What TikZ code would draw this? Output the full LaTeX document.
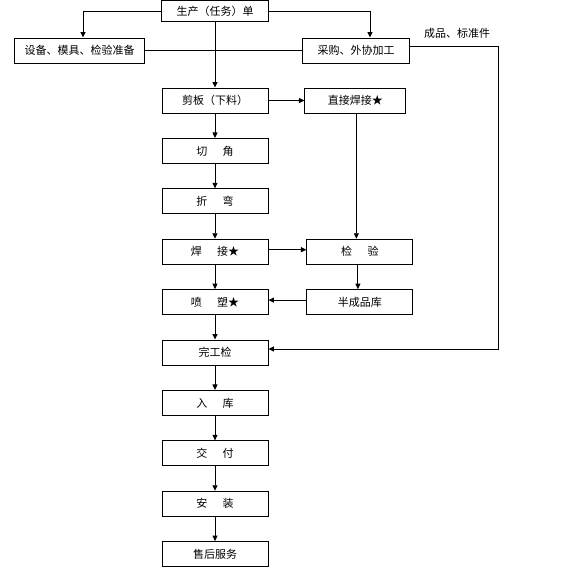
\documentclass[tikz,border=0pt]{standalone}
\usepackage{fontspec}
\newfontfamily\cjk{Noto Sans CJK SC}
\usetikzlibrary{positioning,arrows.meta}

\begin{document}
\begin{tikzpicture}
  [x=1pt,y=1pt,
   stepbox/.style={draw,line width=0.9pt,minimum width=106pt,minimum height=25pt,inner sep=0pt,
     font=\cjk\fontsize{11}{13}\selectfont},
   arr/.style={line width=0.9pt,-{Triangle[length=5.5pt,width=5pt]}},
   ln/.style={line width=0.9pt},
   node distance=24.5pt]

  \useasboundingbox (0,0) rectangle (578,-570);

  % top row
  \node[stepbox,minimum height=21pt,minimum width=107pt] (order) at (215,-11) {生产（任务）单};
  \node[stepbox,minimum width=130pt] (equip) at (79.5,-50.5) {设备、模具、检验准备};
  \node[stepbox,minimum width=107pt] (purch) at (356,-50.5) {采购、外协加工};
  \node[font=\cjk\fontsize{11}{13}\selectfont] (parts) at (457,-33) {成品、标准件};

  % main column
  \node[stepbox] (shear) at (215,-100.5) {剪板（下料）};
  \node[stepbox] (corner) [below=of shear]  {切\hspace{1.4em}角};
  \node[stepbox] (bend)   [below=of corner] {折\hspace{1.4em}弯};
  \node[stepbox] (weld)   [below=of bend]   {焊\hspace{1.4em}接★};
  \node[stepbox] (spray)  [below=of weld]   {喷\hspace{1.4em}塑★};
  \node[stepbox] (done)   [below=of spray]  {完工检};
  \node[stepbox] (store)  [below=of done]   {入\hspace{1.4em}库};
  \node[stepbox] (deliver)[below=of store]  {交\hspace{1.4em}付};
  \node[stepbox] (install)[below=of deliver]{安\hspace{1.4em}装};
  \node[stepbox] (service)[below=of install]{售后服务};

  % right column
  \node[stepbox,minimum width=101pt] (direct) [right=36pt of shear] {直接焊接★};
  \node[stepbox] (check) [right=38pt of weld] {检\hspace{1.4em}验};
  \node[stepbox] (semi)  [right=38pt of spray] {半成品库};
  \coordinate (rc) at (498,-349);

  \draw[arr] (order.west) -| ([xshift=3.5pt]equip.north);
  \draw[arr] (order.east) -| ([xshift=14pt]purch.north);
  \draw[ln]  (equip) -- (purch);
  \draw[arr] (order) -- (shear);
  \draw[arr] ([yshift=4pt]purch.east) -| (rc) -- (rc -| done.east);

  \draw[arr] (shear) -- (corner);
  \draw[arr] (corner) -- (bend);
  \draw[arr] (bend) -- (weld);
  \draw[arr] (weld) -- (spray);
  \draw[arr] (spray) -- (done);
  \draw[arr] (done) -- (store);
  \draw[arr] (store) -- (deliver);
  \draw[arr] (deliver) -- (install);
  \draw[arr] (install) -- (service);

  \draw[arr] (shear) -- (direct);
  \draw[arr] ([xshift=1pt]direct.south) -- ([xshift=1pt]direct.south |- check.north);
  \draw[arr] ([yshift=2pt]weld.east) -- ([yshift=2pt]check.west);
  \draw[arr] ([xshift=-2pt]check.south) -- ([xshift=-2pt]semi.north);
  \draw[arr] ([yshift=2pt]semi.west) -- ([yshift=2pt]spray.east);
\end{tikzpicture}
\end{document}
